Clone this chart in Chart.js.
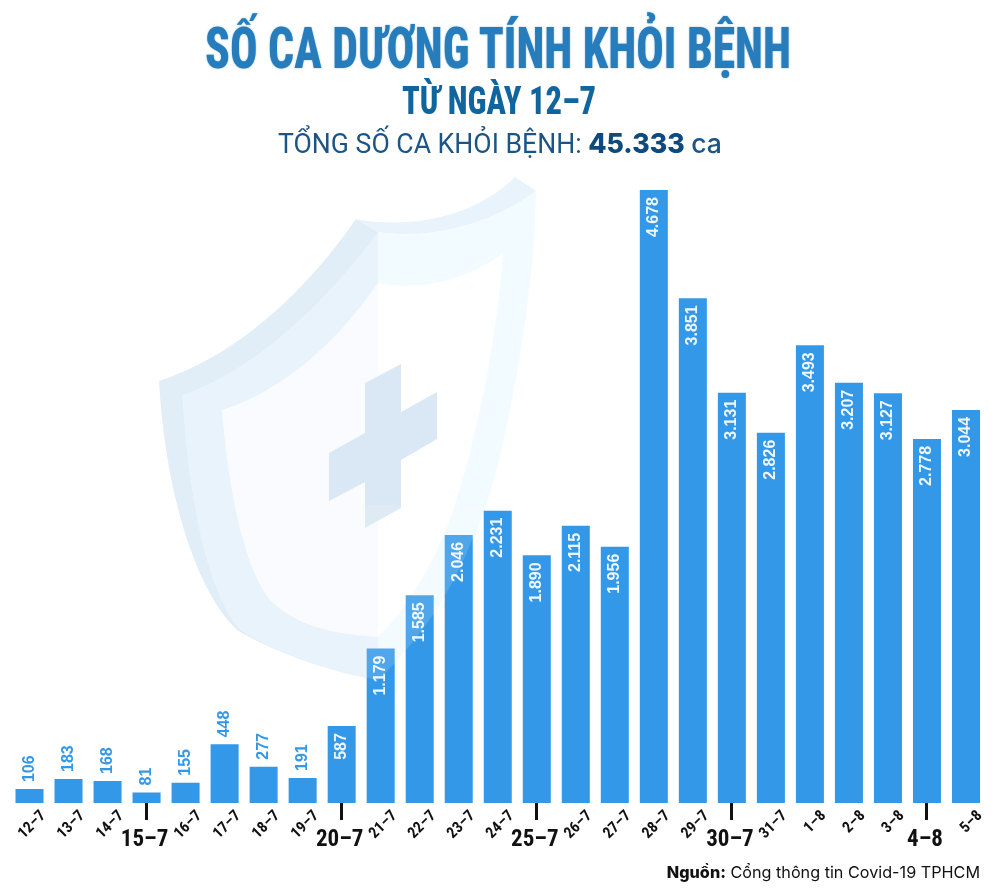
<!DOCTYPE html>
<html><head><meta charset="utf-8">
<style>
html,body{margin:0;padding:0;background:#fff;width:1000px;height:888px;overflow:hidden}
.abs{position:absolute;left:0;top:0}
.t{position:absolute;white-space:nowrap;transform-origin:0 0;line-height:1}
</style>
<script src="https://cdn.jsdelivr.net/npm/chart.js@4"></script>
</head><body>
<svg class="abs" width="1000" height="888" viewBox="0 0 1000 888">
<path fill="#e1edf7" d="M159 381C230 358 300 300 356 219L378 232V680C320 668 270 650 237 630C195 590 165 490 159 381Z"/>
<path fill="#e8f3fc" d="M182 395C250 372 320 310 378 232V680C330 672 280 655 240 630C205 590 188 490 182 395Z"/>
<path fill="#e8f3fc" d="M356 219C400 228 470 222 515 177L536 191C490 225 430 240 378 232Z"/>
<path fill="#f2fbff" d="M378 232C430 240 490 225 536 191C535 290 510 430 487 503C465 570 430 630 378 680Z"/>
<path fill="#fafbfe" d="M222 410C280 392 335 345 378 283V637C330 634 295 625 270 600C245 570 228 490 222 410Z"/>
<path fill="#ffffff" d="M378 283C425 292 470 278 503 253C497 340 478 430 455 505C440 550 415 600 378 637Z"/>
<path fill="#d9e8f4" d="M365 383L401 364V412L437 392V439L401 460V508L365 528V482L329 501V453L365 433Z"/>
</svg>
<canvas id="c" class="abs" width="1000" height="888" style="width:1000px;height:888px"></canvas>
<svg class="abs" width="1000" height="888" viewBox="0 0 1000 888">
<path fill="#ffffff" fill-opacity="0.14" d="M363 677L378 680C430 630 465 570 484 505L363 505Z"/>
</svg>
<div class="t" data-w="586" style="left:205px;top:14px;font:800 58px 'Roboto Condensed',sans-serif;color:#277cbc;text-shadow:0 0 2px rgba(39,124,188,.6)">SỐ CA DƯƠNG TÍNH KHỎI BỆNH</div>
<div class="t" data-w="194" style="left:402px;top:79px;font:800 38px 'Roboto Condensed',sans-serif;color:#10659f">TỪ NGÀY 12–7</div>
<div class="t" data-w="444" style="left:278px;top:127px;font:400 27px Roboto,sans-serif;color:#1c5585">TỔNG SỐ CA KHỎI BỆNH: <span style="font:800 27px Inter,sans-serif;color:#0e4a7d">45.333</span> <span style="font:500 27px Inter,sans-serif">ca</span></div>
<div class="t" style="right:20px;top:862px;font:400 16.2px Inter,sans-serif;color:#111"><b style="font-weight:800">Nguồn:</b> Cổng thông tin Covid-19 TPHCM</div>
<script>
const dayLabels=["12–7","13–7","14–7","15–7","16–7","17–7","18–7","19–7","20–7","21–7","22–7","23–7","24–7","25–7","26–7","27–7","28–7","29–7","30–7","31–7","1–8","2–8","3–8","4–8","5–8"];
const printedValues=["106","183","168","81","155","448","277","191","587","1.179","1.585","2.046","2.231","1.890","2.115","1.956","4.678","3.851","3.131","2.826","3.493","3.207","3.127","2.778","3.044"];
const barHeights=[106,183,168,81,155,448,277,191,587,1179,1585,2046,2231,1890,2115,1956,4678,3851,3131,2826,3493,3207,3127,2778,3000];
const majorDays=["15–7","20–7","25–7","30–7","4–8"];
const barColor="#3398e8";

document.querySelectorAll('.t[data-w]').forEach(e=>{
  const w=e.getBoundingClientRect().width;
  e.style.transform='scaleX('+(+e.dataset.w/w)+')';
});

const valueLabels={id:'valueLabels',afterDatasetsDraw(chart){
  const ctx=chart.ctx;
  chart.getDatasetMeta(0).data.forEach((bar,i)=>{
    const inside=barHeights[i]>=500;
    ctx.save();
    ctx.translate(bar.x,inside?bar.y+7:bar.y-7);
    ctx.rotate(-Math.PI/2);
    ctx.textAlign=inside?'right':'left';ctx.textBaseline='middle';
    ctx.font="700 16px 'Liberation Sans',sans-serif";
    ctx.fillStyle=inside?'#eef7fe':barColor;
    ctx.fillText(printedValues[i],0,0);
    ctx.restore();
  });
}};

new Chart(document.getElementById('c'),{
  type:'bar',
  data:{labels:dayLabels,datasets:[{data:barHeights,backgroundColor:barColor,barPercentage:0.718,categoryPercentage:1,xAxisID:'x',yAxisID:'y'}]},
  options:{
    responsive:false,animation:false,
    layout:{padding:{left:10,right:14.5,top:190,bottom:0}},
    plugins:{legend:{display:false},tooltip:{enabled:false},title:{display:false}},
    scales:{
      y:{display:false,min:0,max:4678},
      x:{
        type:'category',position:'bottom',offset:true,weight:0,
        border:{display:false},
        grid:{display:false},
        ticks:{autoSkip:false,minRotation:45,maxRotation:45,labelOffset:14,padding:-4,color:'#111',
          font:{family:"'Roboto Condensed',sans-serif",weight:'700',size:15.5},
          callback(v){const l=this.getLabelForValue(v);return majorDays.includes(l)?'':l;}},
        afterFit(s){s.height=0;s.paddingLeft=0;s.paddingRight=0;s._computeLabelArea=()=>undefined;}
      },
      x2:{
        type:'category',position:'bottom',offset:true,labels:dayLabels,weight:5,
        border:{display:false},
        grid:{offset:false,drawOnChartArea:false,drawTicks:true,tickLength:17,tickWidth:3,
          tickColor(c){return majorDays.includes(dayLabels[c.index])?'#111':'rgba(0,0,0,0)';}},
        ticks:{autoSkip:false,maxRotation:0,minRotation:0,padding:6,labelOffset:-2,color:'#111',
          font:{family:"'Roboto Condensed',sans-serif",weight:'700',size:23},
          callback(v){const l=dayLabels[v];return majorDays.includes(l)?l:'';}},
        afterFit(s){s.height=85;s.paddingLeft=0;s.paddingRight=0;}
      }
    }
  },
  plugins:[valueLabels]
});
</script>
</body></html>
